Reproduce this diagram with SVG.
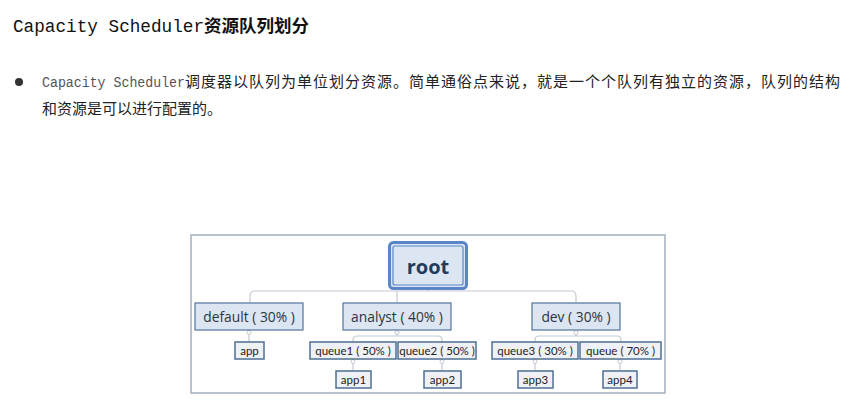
<svg xmlns="http://www.w3.org/2000/svg" width="861" height="411" viewBox="0 0 861 411">
<style>
.mono{font-family:"Liberation Mono","DejaVu Sans Mono",monospace}
.cjk{font-family:"Noto Sans CJK SC","Noto Sans",sans-serif}
.n1 rect{fill:#dce6f2;stroke:#5f7fa3;stroke-width:1.3}
.n2 rect{fill:#eef2f7;stroke:#4f6f92;stroke-width:1.5}
.n1 text{font-family:"Open Sans","Noto Sans",sans-serif;font-size:13.8px;fill:#2b3440;text-anchor:middle}
.n2 text{font-family:Lato,"Open Sans",sans-serif;font-size:11.5px;fill:#222;text-anchor:middle}
.conn path{fill:none;stroke:#c3c9d1;stroke-width:1.2}
.conn circle{fill:#fff;stroke:#c3c9d1;stroke-width:1}
</style>
<rect width="861" height="411" fill="#fff"/>
<g id="title">
<text x="13" y="32" class="mono" font-size="17.7" fill="#111">Capacity Scheduler</text>
<text x="204" y="32" class="cjk" font-size="17.5" font-weight="bold" fill="#111">资源队列划分</text>
</g>
<g id="bullet">
<circle cx="19" cy="82" r="4" fill="#333"/>
<text x="42" y="87" class="mono" font-size="14.5" fill="#555" textLength="143" lengthAdjust="spacingAndGlyphs">Capacity Scheduler</text>
<text x="185" y="87" class="cjk" font-size="15" fill="#222" textLength="655" lengthAdjust="spacing">调度器以队列为单位划分资源。简单通俗点来说，就是一个个队列有独立的资源，队列的结构</text>
<text x="42" y="114" class="cjk" font-size="15" fill="#222">和资源是可以进行配置的。</text>
</g>
<rect id="frame" x="191" y="235" width="474" height="158" fill="#fff" stroke="#a3b0bf" stroke-width="1.5"/>
<g class="conn" id="connectors">
<path d="M428 289 V291 M250 303 V296 Q250 291 255 291 H571 Q576 291 576 296 V303 M397 291 V303"/>
<path d="M249 330 V342"/>
<path d="M397 330 V336 M353 342 V340 Q353 336 357 336 H438 Q442 336 442 340 V342"/>
<path d="M576 330 V336 M535 342 V340 Q535 336 539 336 H617 Q621 336 621 340 V342"/>
<path d="M353 359 V371 M442 359 V371 M535 359 V371 M620 359 V371"/>
<circle cx="249" cy="332.5" r="2"/>
<circle cx="397" cy="332.5" r="2"/>
<circle cx="576" cy="332.5" r="2"/>
<circle cx="353" cy="361.5" r="2"/>
<circle cx="442" cy="361.5" r="2"/>
<circle cx="535" cy="361.5" r="2"/>
<circle cx="620" cy="361.5" r="2"/>
</g>
<g id="root">
<rect x="389.5" y="242.5" width="77" height="46" rx="4" fill="#dce6f2" stroke="#5a86c8" stroke-width="3"/>
<rect x="393" y="246" width="70" height="39" rx="2" fill="none" stroke="#5a86c8" stroke-width="1.2"/>
<text x="428" y="274" font-family="Open Sans,Noto Sans,sans-serif" font-size="20" font-weight="bold" fill="#1f3b5e" text-anchor="middle">root</text>
</g>
<g id="default" class="n1"><rect x="195" y="303" width="108" height="27"/><text x="249" y="322">default ( 30% )</text></g>
<g id="analyst" class="n1"><rect x="343" y="303" width="108" height="27"/><text x="397" y="322">analyst ( 40% )</text></g>
<g id="dev" class="n1"><rect x="532" y="303" width="88" height="27"/><text x="576" y="322">dev ( 30% )</text></g>
<g id="app" class="n2"><rect x="235" y="342" width="29" height="17"/><text x="249.5" y="354.5">app</text></g>
<g id="queue1" class="n2"><rect x="310" y="342" width="86" height="17"/><text x="353" y="354.5">queue1 ( 50% )</text></g>
<g id="queue2" class="n2"><rect x="398" y="342" width="78" height="17"/><text x="437" y="354.5">queue2 ( 50% )</text></g>
<g id="queue3" class="n2"><rect x="492" y="342" width="86" height="17"/><text x="535" y="354.5">queue3 ( 30% )</text></g>
<g id="queue" class="n2"><rect x="580" y="342" width="81" height="17"/><text x="620.5" y="354.5">queue ( 70% )</text></g>
<g id="app1" class="n2"><rect x="336" y="371" width="35" height="17"/><text x="353.5" y="383.5">app1</text></g>
<g id="app2" class="n2"><rect x="424" y="371" width="37" height="17"/><text x="442.5" y="383.5">app2</text></g>
<g id="app3" class="n2"><rect x="518" y="371" width="35" height="17"/><text x="535.5" y="383.5">app3</text></g>
<g id="app4" class="n2"><rect x="603" y="371" width="34" height="17"/><text x="620" y="383.5">app4</text></g>
</svg>
